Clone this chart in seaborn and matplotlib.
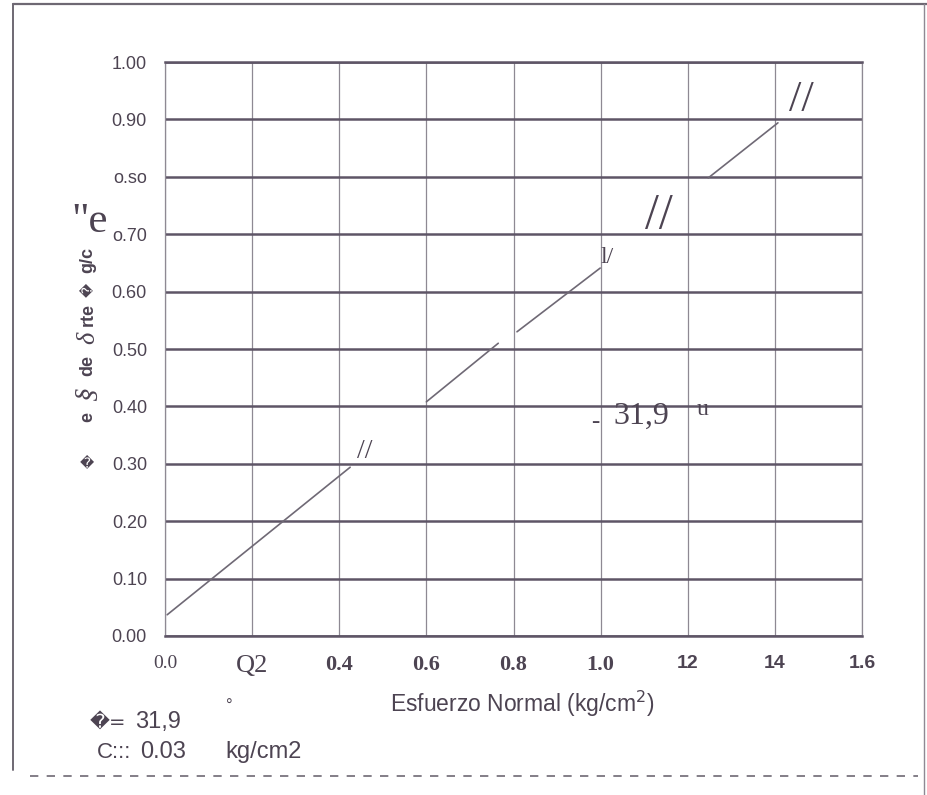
import numpy as np
import pandas as pd
import seaborn as sns
import matplotlib.pyplot as plt
from matplotlib.lines import Line2D

# --- data -------------------------------------------------------------------
seg_ids = [1, 1, 2, 2, 3, 3, 4, 4]                                   # visible line pieces
normal_stress = [0.005, 0.425, 0.60, 0.765, 0.808, 0.999, 1.247, 1.407]  # kg/cm2
shear_stress = [0.037, 0.294, 0.408, 0.51, 0.53, 0.641, 0.798, 0.894]    # kg/cm2

x_ticks = [0.0, 0.2, 0.4, 0.6, 0.8, 1.0, 1.2, 1.4, 1.6]
x_tick_labels = ["0.0", "Q2", "0.4", "0.6", "0.8", "1.0", "12", "14", "1.6"]
y_ticks = [0.0, 0.1, 0.2, 0.3, 0.4, 0.5, 0.6, 0.7, 0.8, 0.9, 1.0]
y_tick_labels = ["0.00", "0.10", "0.20", "0.30", "0.40", "0.50", "0.60",
                 "o.70", "o.so", "0.90", "1.00"]

df = pd.DataFrame({"seg": seg_ids, "x": normal_stress, "y": shear_stress})

ink = "#4d4452"
sns.set_style("white")
plt.rcParams["font.family"] = ["Liberation Sans", "DejaVu Sans"]

fig = plt.figure(figsize=(9.28, 7.95), dpi=100)
ax = fig.add_axes([165 / 928, 1 - 636 / 795, (862 - 165) / 928, (636 - 62) / 795])

sns.lineplot(data=df, x="x", y="y", units="seg", estimator=None,
             color="#6f6975", lw=1.2, ax=ax)

ax.set_xlim(0, 1.6)
ax.set_ylim(0, 1.0)
ax.set_xticks(x_ticks)
ax.set_yticks(y_ticks)
ax.set_xticklabels(x_tick_labels)
ax.set_yticklabels(y_tick_labels)
ax.set_xlabel("")
ax.set_ylabel("")

# grid: heavy horizontals, thin verticals (like the printed sheet)
ax.grid(axis="y", color="#5e5566", lw=1.8)
ax.grid(axis="x", color="#8e8993", lw=0.9)
ax.set_axisbelow(True)
for side in ["top", "bottom"]:
    ax.spines[side].set_color("#5e5566")
    ax.spines[side].set_linewidth(1.8)
for side in ["left", "right"]:
    ax.spines[side].set_color("#8e8993")
    ax.spines[side].set_linewidth(0.9)

ax.tick_params(axis="y", length=5, width=1.8, color="#5e5566", pad=8,
               labelsize=13, labelcolor=ink)
ax.tick_params(axis="x", length=5, width=0.9, color="#8e8993", pad=9,
               labelcolor=ink)
for lab in ax.get_xticklabels():
    t = lab.get_text()
    if t == "0.0":
        lab.set_fontfamily("Liberation Serif")
        lab.set_fontsize(14)
    elif t == "Q2":
        lab.set_fontfamily("Liberation Serif")
        lab.set_fontsize(19)
    elif t in ["0.4", "0.6", "0.8", "1.0"]:
        lab.set_fontfamily("Liberation Serif")
        lab.set_fontweight("bold")
        lab.set_fontsize(16)
    else:
        lab.set_fontweight("bold")
        lab.set_fontsize(14)

# garbled scanned annotations kept as text
serif = "Liberation Serif"
ax.text(0.987, 0.373, "-", fontsize=18, color=ink, family=serif,
        ha="center", va="center")
ax.text(1.03, 0.382, "31,9", fontsize=23, color=ink, family=serif,
        va="center")
ax.text(1.22, 0.395, "u", fontsize=17, color=ink, family=serif,
        va="center")
ax.text(1.46, 0.934, "//", fontsize=32, color=ink, family=serif,
        ha="center", va="center")
ax.text(1.134, 0.733, "//", fontsize=36, color=ink, family=serif,
        ha="center", va="center")
ax.text(1.015, 0.659, "l/", fontsize=17, color=ink, family=serif,
        ha="center", va="center")
ax.text(0.459, 0.321, "//", fontsize=20, color=ink, family=serif,
        ha="center", va="center")

# axis titles placed by figure coords
fig.text(522 / 928, 1 - 704 / 795, "Esfuerzo Normal (kg/cm$^2$)", fontsize=16.5,
         color=ink, ha="center", va="center")
ylab_parts = [("e", 417, "bold", "Liberation Sans", 13, "normal"),
              ("§", 394, "normal", serif, 20, "italic"),
              ("de", 366, "bold", "Liberation Sans", 13, "normal"),
              ("δ", 338, "normal", serif, 19, "italic"),
              ("rte", 315, "bold", "Liberation Sans", 13, "normal"),
              ("\ufffd", 290, "normal", "DejaVu Sans", 10, "normal"),
              ("g/c", 260, "bold", "Liberation Sans", 13, "normal")]
for txt, yp, wt, fam, fs, st in ylab_parts:
    fig.text(88 / 928, 1 - yp / 795, txt, rotation=90, fontsize=fs, color=ink,
             fontweight=wt, family=fam, style=st, ha="center", va="center")
fig.text(90 / 928, 1 - 222 / 795, '"e', fontsize=31, color=ink,
         family=serif, ha="center", va="center")
fig.text(87 / 928, 1 - 463 / 795, "\ufffd", fontsize=10, color=ink,
         family="DejaVu Sans", ha="center", va="center")

# parameters block
fig.text(90 / 928, 1 - 722 / 795, "\ufffd=", fontsize=14, color=ink,
         family="DejaVu Sans", va="center")
fig.text(135 / 928, 1 - 722 / 795, "31,9", fontsize=17, color=ink, va="center")
fig.text(226 / 928, 1 - 706 / 795, "°", fontsize=12, color=ink, va="center")
fig.text(97 / 928, 1 - 752 / 795, "C:::", fontsize=16, color=ink, va="center")
fig.text(140 / 928, 1 - 752 / 795, "0.03", fontsize=17, color=ink, va="center")
fig.text(225 / 928, 1 - 752 / 795, "kg/cm2", fontsize=17, color=ink, va="center")

# scanned page frame
frame = "#6e6873"
fig.add_artist(Line2D([13 / 928, 13 / 928], [1 - 770 / 795, 1 - 4 / 795],
                      color=frame, lw=1.4))
fig.add_artist(Line2D([13 / 928, 1.0], [1 - 4 / 795, 1 - 4 / 795],
                      color=frame, lw=1.6))
fig.add_artist(Line2D([924 / 928, 924 / 928], [0, 1 - 4 / 795],
                      color="#8e8993", lw=1.0))
fig.add_artist(Line2D([30 / 928, 918 / 928], [1 - 776 / 795, 1 - 776 / 795],
                      color=frame, lw=1.2, ls=(0, (5, 5))))

fig.savefig("out.png", dpi=100, facecolor="white")
